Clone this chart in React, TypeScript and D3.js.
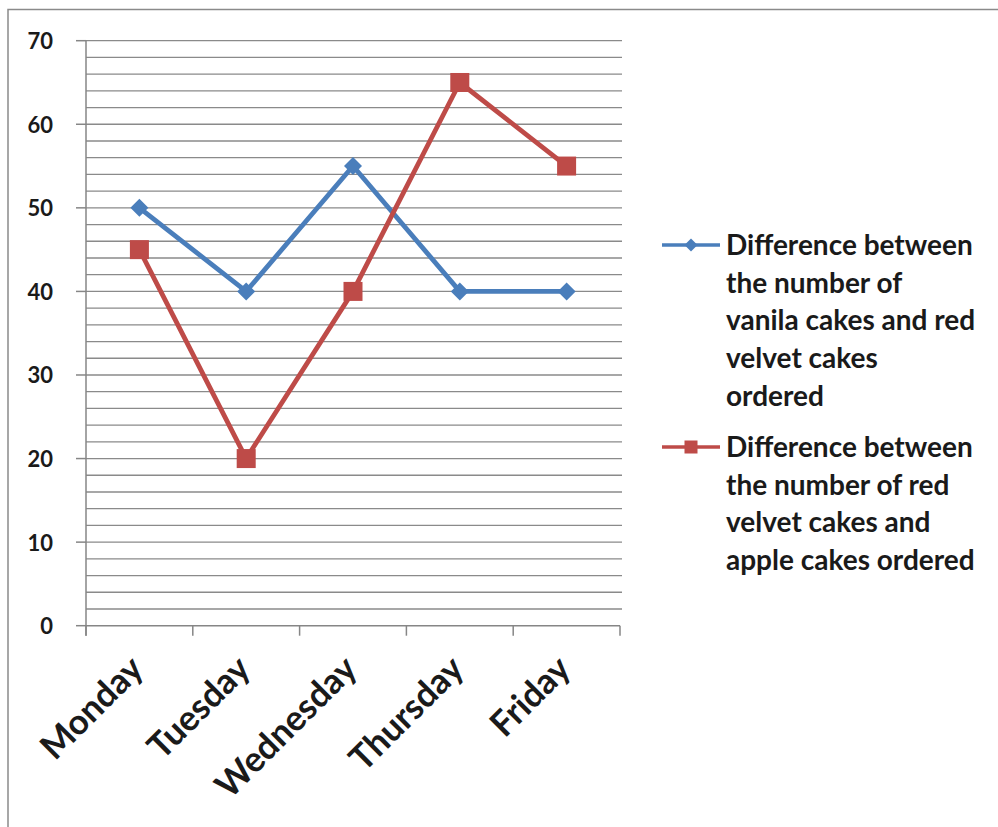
import React from "react";
import * as d3 from "d3";

// Weekday categories and the two difference series
const days = ["Monday", "Tuesday", "Wednesday", "Thursday", "Friday"];
const vanillaVsRedVelvet = [50, 40, 55, 40, 40];
const redVelvetVsApple = [45, 20, 40, 65, 55];
const yTicks = [0, 10, 20, 30, 40, 50, 60, 70];
const legendBlue = [
  "Difference between",
  "the number of",
  "vanila cakes and red",
  "velvet cakes",
  "ordered",
];
const legendRed = [
  "Difference between",
  "the number of red",
  "velvet cakes and",
  "apple cakes ordered",
];

const W = 998;
const H = 827;
const BLUE = "#4A7EBB";
const RED = "#BE4B48";
const GRID = "#8a8a8a";
const AXIS = "#868686";
const FONT = "Lato, 'Open Sans', sans-serif";

export default function App() {
  const plot = { left: 86, right: 620, top: 40.7, bottom: 625.7 };

  const x = d3.scaleBand<string>().domain(days).range([plot.left, plot.right]);
  const y = d3.scaleLinear().domain([0, 70]).range([plot.bottom, plot.top]);
  const cx = (d: string) => (x(d) as number) + x.bandwidth() / 2;

  const gridValues = d3.range(2, 71, 2);
  const line = d3
    .line<number>()
    .x((_, i) => cx(days[i]))
    .y((v) => y(v));

  const diamond = (s: number) => `M0,${-s}L${s},0L0,${s}L${-s},0Z`;

  const legendX = 726;
  const lineGap = 37.7;
  const blueTop = 245;
  const redTop = 447;

  return (
    <svg
      width={W}
      height={H}
      style={{ position: "absolute", left: 0, top: 0, background: "#fff" }}
      fontFamily={FONT}
    >
      <rect x={8} y={9.5} width={W + 20} height={H + 20} fill="#fff" stroke="#8a8a8a" strokeWidth={1.5} />

      {/* horizontal gridlines every 2 units */}
      {gridValues.map((v) => (
        <line
          key={"g" + v}
          x1={plot.left}
          x2={plot.right + 2}
          y1={y(v)}
          y2={y(v)}
          stroke={GRID}
          strokeWidth={1.3}
        />
      ))}

      {/* y axis */}
      <line x1={plot.left} x2={plot.left} y1={plot.top} y2={plot.bottom + 10} stroke={AXIS} strokeWidth={1.5} />
      {yTicks.map((t) => (
        <g key={"yt" + t}>
          <line x1={plot.left - 10} x2={plot.left} y1={y(t)} y2={y(t)} stroke={AXIS} strokeWidth={1.5} />
          <text
            x={53}
            y={y(t)}
            textAnchor="end"
            dominantBaseline="central"
            fontSize={22}
            fontWeight="bold"
            fill="#1a1a1a"
          >
            {t}
          </text>
        </g>
      ))}

      {/* x axis */}
      <line x1={plot.left} x2={plot.right} y1={plot.bottom} y2={plot.bottom} stroke={AXIS} strokeWidth={1.5} />
      {[...days.map((d) => x(d) as number), plot.right].map((b, i) => (
        <line key={"xt" + i} x1={b} x2={b} y1={plot.bottom} y2={plot.bottom + 10} stroke={AXIS} strokeWidth={1.5} />
      ))}
      {days.map((d) => (
        <text
          key={"xl" + d}
          transform={`translate(${cx(d) + 6},${671}) rotate(-45)`}
          textAnchor="end"
          fontSize={35}
          fontWeight="bold"
          fill="#1a1a1a"
        >
          {d}
        </text>
      ))}

      {/* series lines */}
      <path d={line(vanillaVsRedVelvet) || ""} fill="none" stroke={BLUE} strokeWidth={4.8} strokeLinejoin="round" />
      <path d={line(redVelvetVsApple) || ""} fill="none" stroke={RED} strokeWidth={4.8} strokeLinejoin="round" />

      {vanillaVsRedVelvet.map((v, i) => (
        <path key={"bm" + i} transform={`translate(${cx(days[i])},${y(v)})`} d={diamond(9)} fill={BLUE} />
      ))}
      {redVelvetVsApple.map((v, i) => (
        <rect key={"rm" + i} x={cx(days[i]) - 9.5} y={y(v) - 9.5} width={19} height={19} fill={RED} />
      ))}

      {/* legend */}
      <line x1={662} x2={720} y1={blueTop} y2={blueTop} stroke={BLUE} strokeWidth={3.5} />
      <path transform={`translate(691,${blueTop})`} d={diamond(6.5)} fill={BLUE} />
      {legendBlue.map((s, i) => (
        <text key={"lb" + i} x={legendX} y={blueTop + 10 + i * lineGap} fontSize={28} fontWeight="bold" fill="#1a1a1a">
          {s}
        </text>
      ))}

      <line x1={662} x2={720} y1={redTop} y2={redTop} stroke={RED} strokeWidth={3.5} />
      <rect x={691 - 6.5} y={redTop - 6.5} width={13} height={13} fill={RED} />
      {legendRed.map((s, i) => (
        <text key={"lr" + i} x={legendX} y={redTop + 10 + i * lineGap} fontSize={28} fontWeight="bold" fill="#1a1a1a">
          {s}
        </text>
      ))}
    </svg>
  );
}
